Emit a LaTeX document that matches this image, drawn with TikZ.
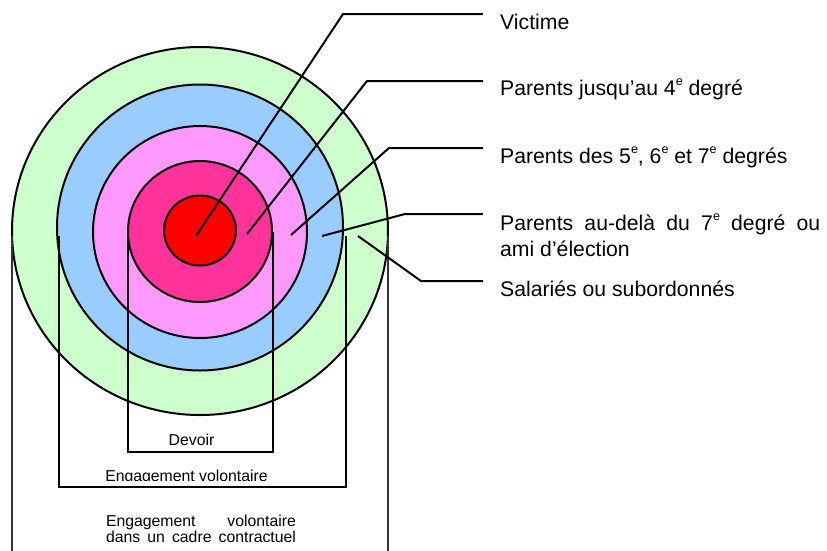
\documentclass[tikz,border=0pt]{standalone}
\usepackage{fontspec}
\setmainfont{Liberation Sans}
\definecolor{cgreen}{HTML}{CCFFCC}
\definecolor{cblue}{HTML}{99CCFF}
\definecolor{cpink}{HTML}{FF99FF}
\definecolor{cmag}{HTML}{FF3399}
\definecolor{cred}{HTML}{FF0000}
\newcommand{\supe}{\raisebox{10pt}{\fontsize{12.5}{12.5}\selectfont e}}
\tikzset{
  ring/.style={draw=black, line width=2pt},
  box/.style={draw=black, line width=2pt},
  outerbox/.style={draw=black!80, line width=1.4pt},
  leader/.style={draw=black, line width=2pt},
  lab/.style={inner sep=0pt, anchor=base west, font=\fontsize{21.2}{24}\selectfont},
  small/.style={inner sep=0pt, anchor=base, font=\fontsize{15.8}{16}\selectfont},
}
\begin{document}
\begin{tikzpicture}[x=1pt, y=-1pt]
\useasboundingbox (0,0) rectangle (827,550);
% circles
\path[ring, fill=cgreen] (200,231) ellipse [x radius=188pt, y radius=184pt];
\path[ring, fill=cblue] (200,227.5) ellipse [x radius=143pt, y radius=143pt];
\path[ring, fill=cpink] (200,232) ellipse [x radius=107pt, y radius=106pt];
\path[ring, fill=cmag] (200,231.5) ellipse [x radius=72pt, y radius=70.5pt];
\path[ring, fill=cred] (200,230.5) ellipse [x radius=36pt, y radius=35pt];
% open-top boxes
\draw[box] (128,232) -- (128,452) -- (273,452) -- (273,232);
\draw[box] (58.5,236) -- (58.5,487) -- (346,487) -- (346,236);
\draw[outerbox] (12,236) -- (12,552);
\draw[outerbox] (388,236) -- (388,552);
% box texts
\node[small] (dev) at (191.5,445) {Devoir};
\begin{scope}
\clip (60,455) rectangle (344,480);
\node[small] (eng) at (186.5,481) {Engagement volontaire};
\end{scope}
\node[small, align=center] (engc) at (201,542) {\makebox[190pt][s]{Engagement volontaire}\\\makebox[190pt][s]{dans un cadre contractuel}};
% labels
\node[lab] (l1) at (500,29) {Victime};
\node[lab] (l2) at (500,95) {Parents jusqu’au 4\supe{} degré};
\node[lab] (l3) at (500,163) {Parents des 5\supe, 6\supe{} et 7\supe{} degrés};
\node[lab] (l4) at (500,230) {\makebox[320pt][s]{Parents au-delà du 7\supe{} degré ou}};
\node[lab] (l4b) at (500,256) {ami d’élection};
\node[lab] (l5) at (500,296) {Salariés ou subordonnés};
% leader coordinates
\coordinate (s1) at (196,236); \coordinate (b1) at (343,14); \coordinate (e1) at (483,14);
\coordinate (s2) at (247,234); \coordinate (b2) at (367,81); \coordinate (e2) at (483,81);
\coordinate (s3) at (291,235); \coordinate (b3) at (389,148); \coordinate (e3) at (483,148);
\coordinate (s4) at (322,236); \coordinate (b4) at (405,214); \coordinate (e4) at (483,214);
\coordinate (s5) at (358,236); \coordinate (b5) at (421,281); \coordinate (e5) at (483,281);
\draw[leader] (s1) -- (b1) -- (e1);
\draw[leader] (s2) -- (b2) -- (e2);
\draw[leader] (s3) -- (b3) -- (e3);
\draw[leader] (s4) -- (b4) -- (e4);
\draw[leader] (s5) -- (b5) -- (e5);
\end{tikzpicture}
\end{document}
